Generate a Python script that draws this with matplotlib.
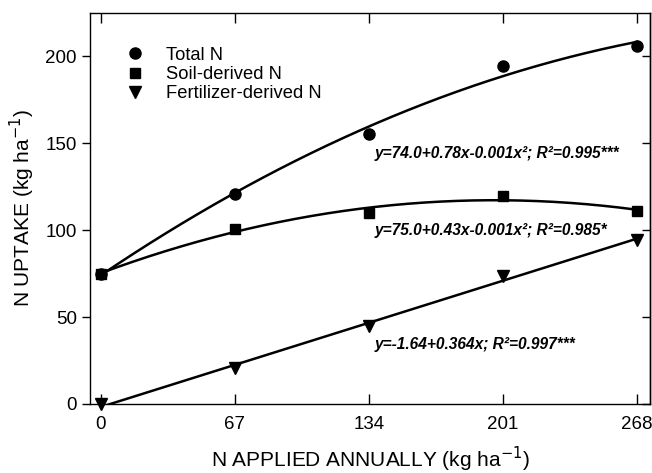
import numpy as np
from matplotlib import pyplot as plt

plt.rcParams['font.family'] = ['Liberation Sans', 'DejaVu Sans']

n_applied = [0, 67, 134, 201, 268]
total_n = [75, 121, 155.5, 194.5, 206]
soil_n = [75, 100.5, 110, 119.5, 111]
fert_n = [0, 20.5, 45, 73.5, 94.5]

x_ticks = [0, 67, 134, 201, 268]
y_ticks = [0, 50, 100, 150, 200]

eq_total = 'y=74.0+0.78x-0.001x\u00b2; R\u00b2=0.995***'
eq_soil = 'y=75.0+0.43x-0.001x\u00b2; R\u00b2=0.985*'
eq_fert = 'y=-1.64+0.364x; R\u00b2=0.997***'

fig = plt.figure(figsize=(6.52, 4.73), dpi=100)
ax = fig.add_axes([0.138, 0.146, 0.859, 0.827])

# fitted curves from the plotted points
xs = np.linspace(0, 268, 200)
p_tot = np.polyfit(n_applied, total_n, 2)
p_soil = np.polyfit(n_applied, soil_n, 2)
p_fert = np.polyfit(n_applied, fert_n, 1)
ax.plot(xs, np.polyval(p_tot, xs), color='black', lw=1.8)
ax.plot(xs, np.polyval(p_soil, xs), color='black', lw=1.8)
ax.plot(xs, np.polyval(p_fert, xs), color='black', lw=1.8)

ax.plot(n_applied, total_n, 'o', color='black', ms=8, label='Total N', clip_on=False)
ax.plot(n_applied, soil_n, 's', color='black', ms=7, label='Soil-derived N', clip_on=False)
ax.plot(n_applied, fert_n, 'v', color='black', ms=8, label='Fertilizer-derived N', clip_on=False)

txt_kw = dict(fontsize=11.2, fontweight='bold', fontstyle='italic', va='center', ha='left')
ax.text(137, 144, eq_total, **txt_kw)
ax.text(137, 100, eq_soil, **txt_kw)
ax.text(137, 34, eq_fert, **txt_kw)

ax.set_xlim(-5.5, 274.5)
ax.set_ylim(0, 225)
ax.set_xticks(x_ticks)
ax.set_yticks(y_ticks)
ax.tick_params(axis='x', direction='in', top=True, length=7, width=1, labelsize=13.5, pad=9)
ax.tick_params(axis='y', direction='out', length=6, width=1, labelsize=13.5)
sec = ax.secondary_yaxis('right')
sec.set_yticks(y_ticks)
sec.tick_params(direction='in', length=6, width=1, labelright=False)
for s in ax.spines.values():
    s.set_linewidth(1)
sec.spines['right'].set_linewidth(1)

ax.set_xlabel('N APPLIED ANNUALLY (kg ha$^{-1}$)', fontsize=15, labelpad=8)
ax.set_ylabel('N UPTAKE (kg ha$^{-1}$)', fontsize=15, labelpad=6)

ax.legend(loc='upper left', bbox_to_anchor=(0.035, 0.955), frameon=False, fontsize=13.2,
          handletextpad=1.2, labelspacing=0.12, handlelength=1.0)

fig.savefig('out.png', dpi=100)
